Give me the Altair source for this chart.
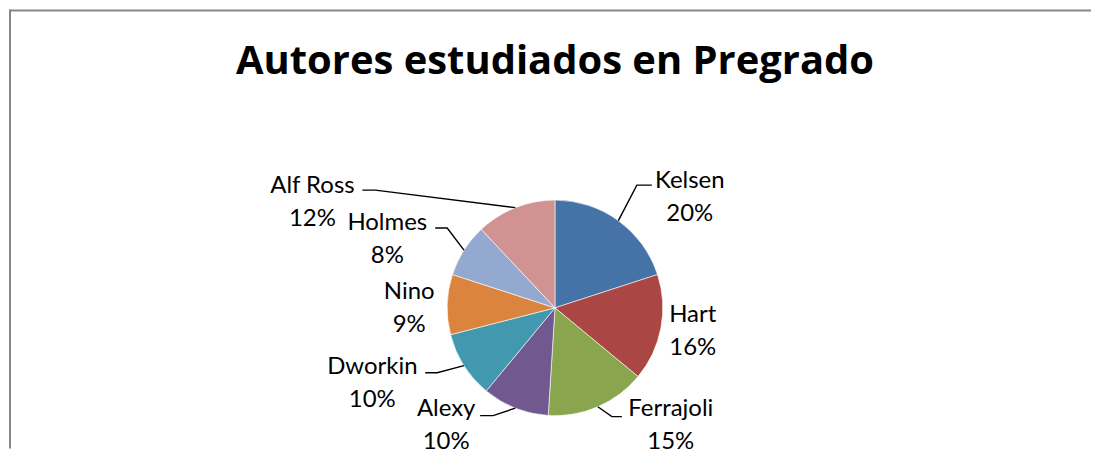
import math
import altair as alt
import pandas as pd

# ---- data ----
autores = ["Kelsen", "Hart", "Ferrajoli", "Alexy", "Dworkin", "Nino", "Holmes", "Alf Ross"]
porcentajes = [20, 16, 15, 10, 10, 9, 8, 12]
colores = ["#4572A7", "#AA4643", "#89A54E", "#71588F", "#4198AF", "#DB843D", "#93A9CF", "#D19392"]
titulo = "Autores estudiados en Pregrado"

# ---- layout (page pixels) ----
OX, OY = 8, 8            # page position of the view origin
W, H = 1084, 440
PCX, PCY, R = 555, 307, 108
FONT = "Lato"

# label: x centre, baseline of first line
label_layout = {
    "Kelsen": (690, 187), "Hart": (693, 321), "Ferrajoli": (671, 415),
    "Alexy": (446, 415), "Dworkin": (372, 373), "Nino": (409, 298),
    "Holmes": (387, 229), "Alf Ross": (312, 192),
}
# leader lines: elbow, end (page pixels); start is computed on the pie edge
leader_layout = {
    "Kelsen": [(637, 184), (652, 184)],
    "Ferrajoli": [(612, 416), (622, 416)],
    "Alexy": [(493, 415), (480, 415)],
    "Dworkin": [(437, 372), (425, 372)],
    "Holmes": [(447, 227), (435, 227)],
    "Alf Ross": [(375, 189), (362, 189)],
}

CX, CY = PCX - OX, PCY - OY

df = pd.DataFrame({"autor": autores, "valor": porcentajes})
df["orden"] = range(len(df))
df["label"] = [f"{a}\n{v}%" for a, v in zip(autores, porcentajes)]
df["lx"] = [label_layout[a][0] - OX for a in autores]
df["ly"] = [label_layout[a][1] - OY for a in autores]

total = sum(porcentajes)
rows = []
cum = 0
for a, v in zip(autores, porcentajes):
    mid = (cum + v / 2) / total * 2 * math.pi
    cum += v
    if a in leader_layout:
        pts = [(CX + R * math.sin(mid), CY - R * math.cos(mid))]
        pts += [(x - OX, y - OY) for x, y in leader_layout[a]]
        for i, (x, y) in enumerate(pts):
            rows.append({"autor": a, "paso": i, "x": x, "y": y})
lines = pd.DataFrame(rows)

xs = alt.Scale(domain=[0, W], range=[0, W])
ys = alt.Scale(domain=[0, H], range=[0, H])

frame_df = pd.DataFrame({"k": [0]})
border_top = alt.Chart(frame_df).mark_rule(color="#878787", strokeWidth=2).encode(
    x=alt.value(0), x2=alt.value(W), y=alt.value(1)
)
border_left = alt.Chart(frame_df).mark_rule(color="#878787", strokeWidth=2).encode(
    x=alt.value(1), y=alt.value(0), y2=alt.value(H)
)

pie = alt.Chart(df).mark_arc(outerRadius=R, stroke="#FFFFFF", strokeWidth=0.6).encode(
    theta=alt.Theta("valor:Q", stack=True),
    color=alt.Color("autor:N", scale=alt.Scale(domain=autores, range=colores), legend=None),
    order=alt.Order("orden:Q"),
    x=alt.value(CX),
    y=alt.value(CY),
)

leaders = alt.Chart(lines).mark_line(color="#000000", strokeWidth=1.4).encode(
    x=alt.X("x:Q", scale=xs, axis=None),
    y=alt.Y("y:Q", scale=ys, axis=None),
    detail="autor:N",
    order="paso:Q",
)

labels = alt.Chart(df).mark_text(
    font=FONT, fontSize=24, color="#000000", align="center",
    baseline="alphabetic", lineBreak="\n", lineHeight=33,
).encode(
    x=alt.X("lx:Q", scale=xs, axis=None),
    y=alt.Y("ly:Q", scale=ys, axis=None),
    text="label:N",
)

title = alt.Chart(pd.DataFrame({"t": [titulo]})).mark_text(
    font="Open Sans", fontSize=40, fontWeight="bold", color="#000000",
    align="center", baseline="alphabetic",
).encode(
    x=alt.value(CX),
    y=alt.value(73 - OY),
    text="t:N",
)

chart = alt.layer(border_top, border_left, pie, leaders, labels, title).properties(
    width=W, height=H, padding=0,
).configure_view(stroke=None)

chart.save("out.html", embed_options={"renderer": "svg", "actions": False})
